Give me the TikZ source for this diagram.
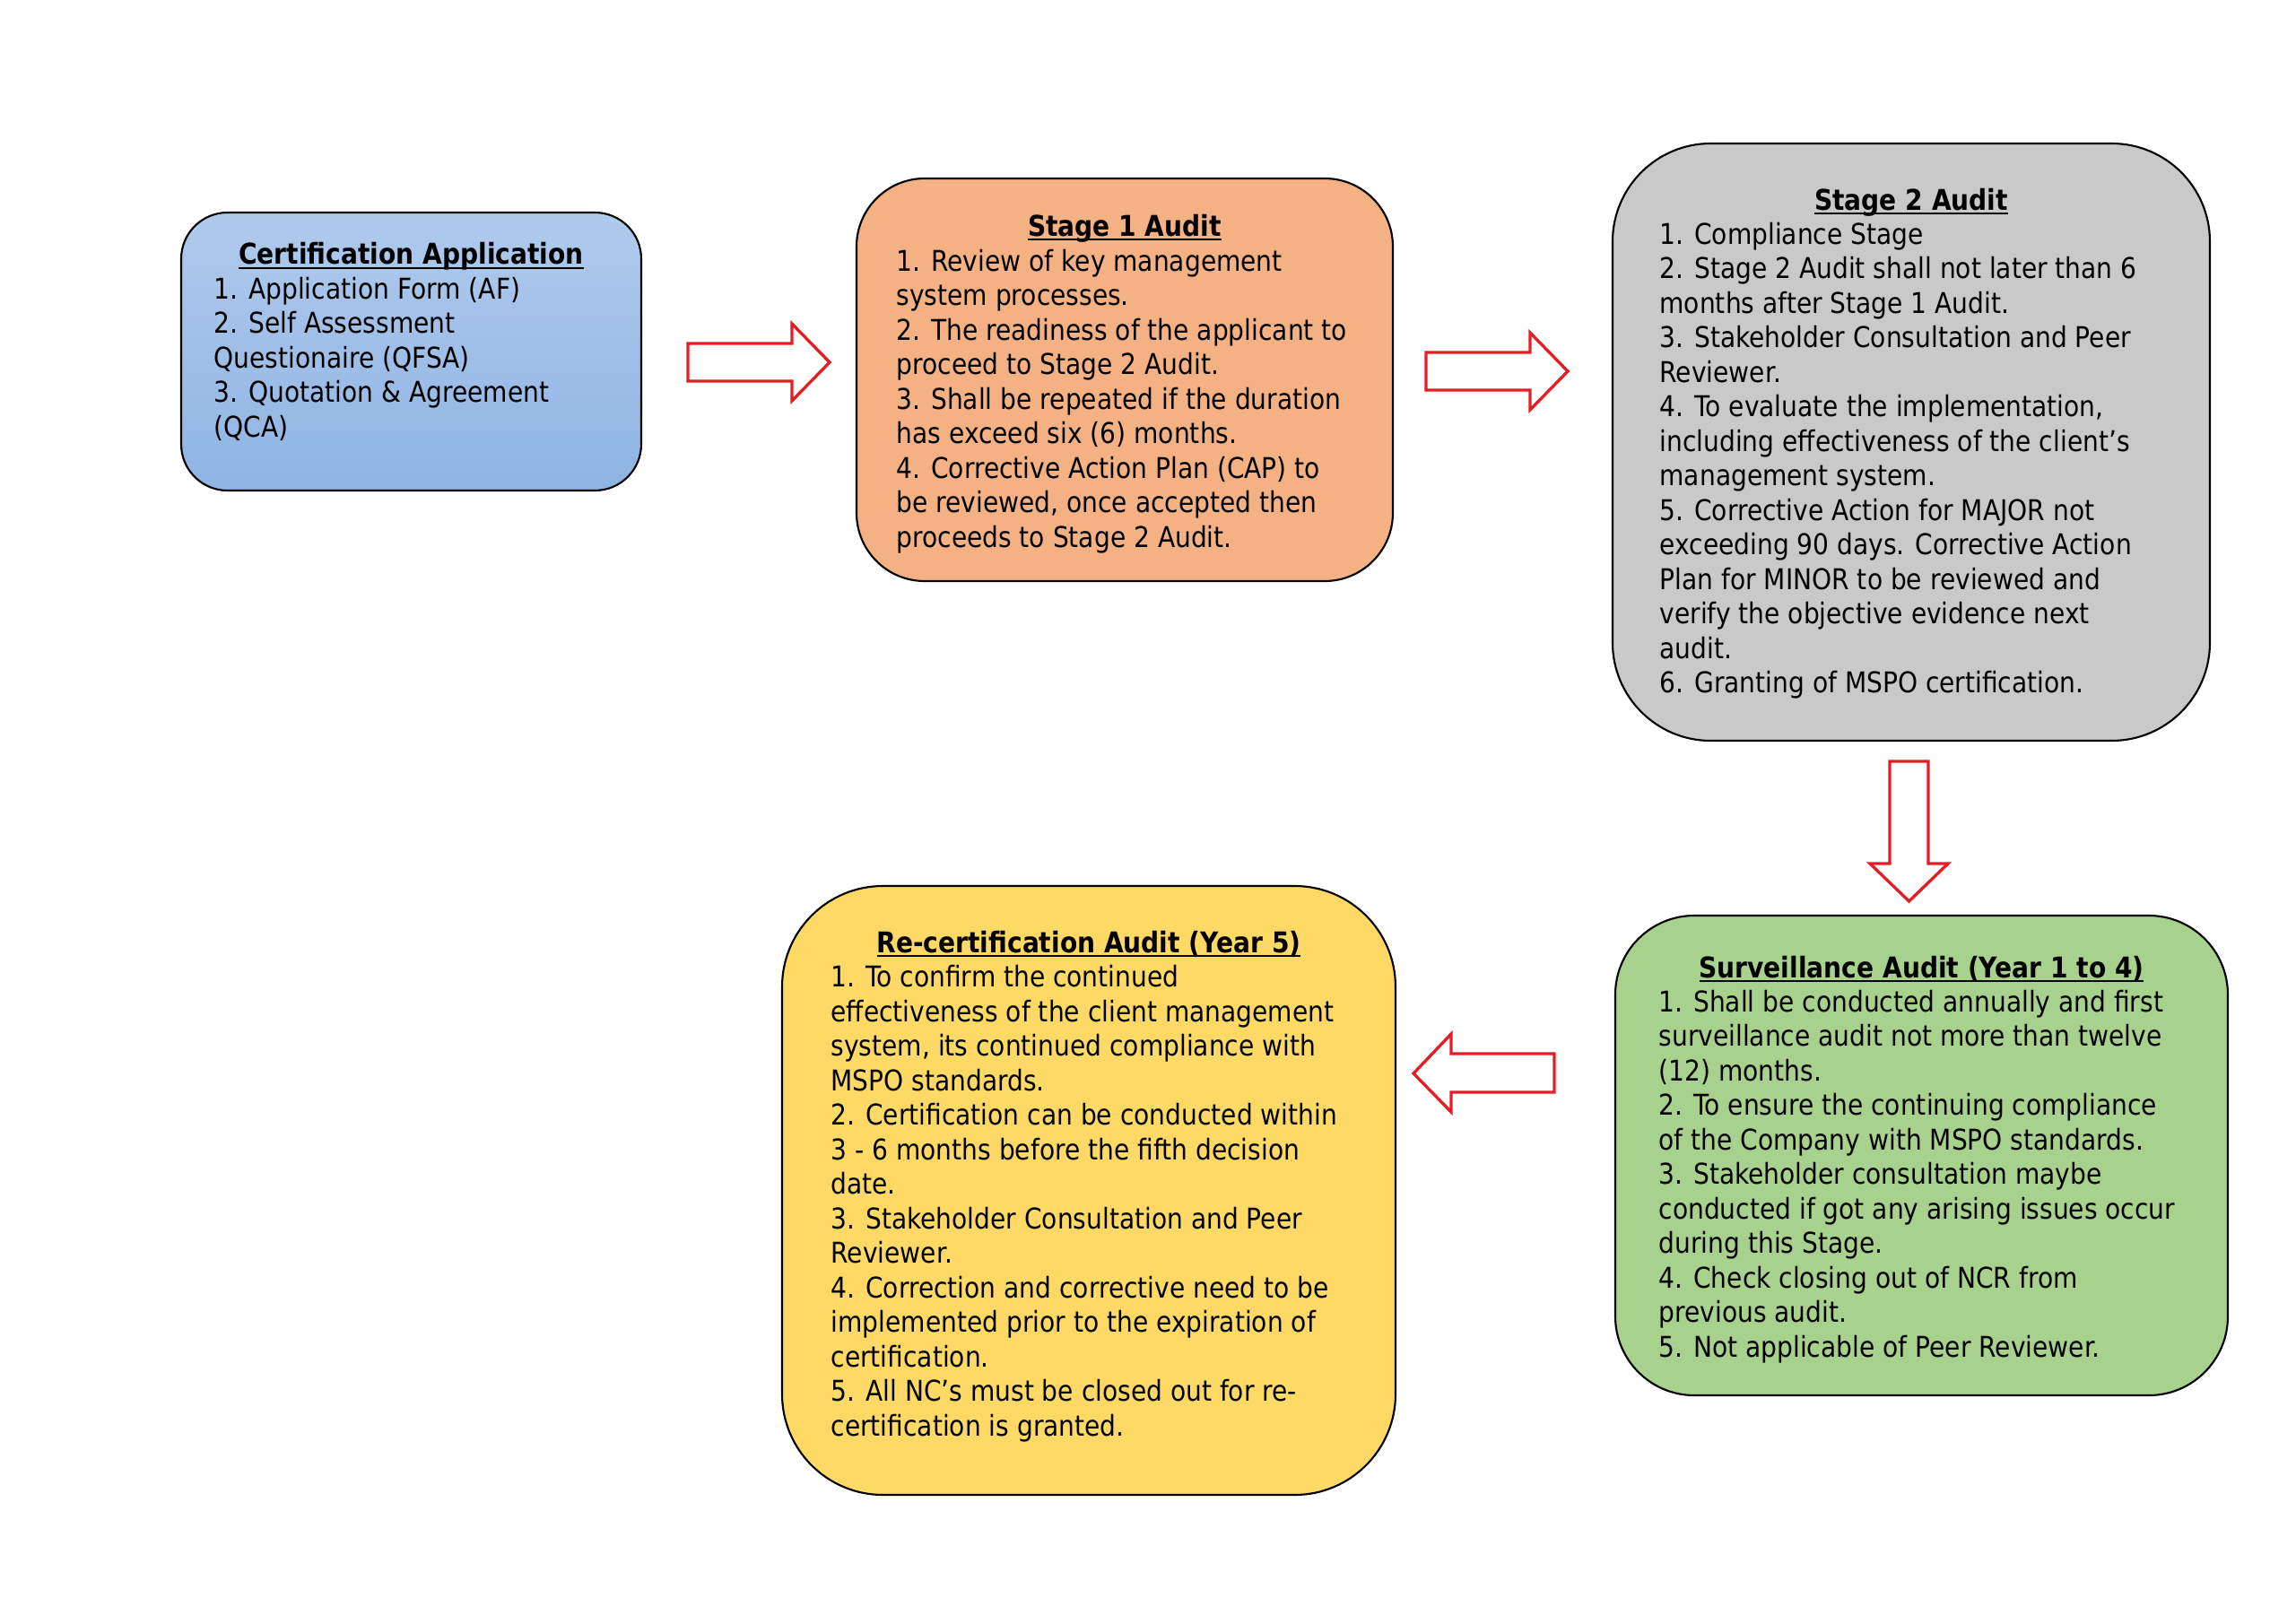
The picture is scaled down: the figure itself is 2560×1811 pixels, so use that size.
\documentclass[tikz,border=0pt]{standalone}
\usepackage{fontspec}
\setmainfont{DejaVu Sans}[FakeStretch=0.88]
\usetikzlibrary{positioning}
\definecolor{bluetop}{RGB}{176,202,236}
\definecolor{bluebot}{RGB}{142,180,227}
\definecolor{orangefill}{RGB}{244,177,131}
\definecolor{grayfill}{RGB}{201,201,201}
\definecolor{greenfill}{RGB}{169,209,142}
\definecolor{yellowfill}{RGB}{255,217,102}
\definecolor{arrowred}{RGB}{228,30,36}
\def\pxu{0.3289pt}
\newcommand\myul[1]{\setbox0=\hbox{#1}\rlap{\rule[-1.8pt]{\wd0}{0.75pt}}\box0}
\tikzset{
  stagebox/.style={draw=black, line width=0.7pt, inner sep=0pt, outer sep=0pt},
  titletext/.style={anchor=base, font=\fontsize{10.5pt}{12.66pt}\selectfont\bfseries, inner sep=0pt},
  bodytext/.style={anchor=base west, align=left, font=\fontsize{10.5pt}{12.66pt}\selectfont, inner sep=0pt},
  blockarrow/.style={draw=arrowred, line width=1.1pt, fill=white, line join=miter}
}
\begin{document}
\begin{tikzpicture}[x=0.3289pt, y=-0.3289pt]
\useasboundingbox (0,0) rectangle (2560,1811);
\fill[white] (0,0) rectangle (2560,1811);

% Boxes
\node[stagebox, top color=bluetop, bottom color=bluebot, minimum width=513*\pxu, minimum height=310*\pxu, rounded corners=17pt] (cert) at (458.5,392) {};
\node[stagebox, fill=orangefill, minimum width=598*\pxu, minimum height=449*\pxu, rounded corners=25pt] (s1) at (1254,423.5) {};
\node[stagebox, fill=grayfill, minimum width=666*\pxu, minimum height=666*\pxu, rounded corners=36pt] (s2) at (2131,493) {};
\node[stagebox, fill=greenfill, minimum width=683*\pxu, minimum height=535*\pxu, rounded corners=29pt] (surv) at (2142.5,1288.5) {};
\node[stagebox, fill=yellowfill, minimum width=684*\pxu, minimum height=679*\pxu, rounded corners=37pt] (recert) at (1214,1327.5) {};

% Texts (body nodes anchored at the baseline of their last line)
\node[titletext] (certT) at (458.5,294.5) {\myul{Certification Application}};
\node[bodytext] (certB) at (238,487) {1. Application Form (AF)\\2. Self Assessment\\Questionaire (QFSA)\\3. Quotation \& Agreement\\(QCA)};

\node[titletext] (s1T) at (1254,263) {\myul{Stage 1 Audit}};
\node[bodytext] (s1B) at (999,610) {1. Review of key management\\system processes.\\2. The readiness of the applicant to\\proceed to Stage 2 Audit.\\3. Shall be repeated if the duration\\has exceed six (6) months.\\4. Corrective Action Plan (CAP) to\\be reviewed, once accepted then\\proceeds to Stage 2 Audit.};

\node[titletext] (s2T) at (2131,234) {\myul{Stage 2 Audit}};
\node[bodytext] (s2B) at (1850,772.5) {1. Compliance Stage\\2. Stage 2 Audit shall not later than 6\\months after Stage 1 Audit.\\3. Stakeholder Consultation and Peer\\Reviewer.\\4. To evaluate the implementation,\\including effectiveness of the client’s\\management system.\\5. Corrective Action for MAJOR not\\exceeding 90 days. Corrective Action\\Plan for MINOR to be reviewed and\\verify the objective evidence next\\audit.\\6. Granting of MSPO certification.};

\node[titletext] (survT) at (2142.5,1090) {\myul{Surveillance Audit (Year 1 to 4)}};
\node[bodytext] (survB) at (1849,1513) {1. Shall be conducted annually and first\\surveillance audit not more than twelve\\(12) months.\\2. To ensure the continuing compliance\\of the Company with MSPO standards.\\3. Stakeholder consultation maybe\\conducted if got any arising issues occur\\during this Stage.\\4. Check closing out of NCR from\\previous audit.\\5. Not applicable of Peer Reviewer.};

\node[titletext] (recertT) at (1214,1062) {\myul{Re-certification Audit (Year 5)}};
\node[bodytext] (recertB) at (926,1601) {1. To confirm the continued\\effectiveness of the client management\\system, its continued compliance with\\MSPO standards.\\2. Certification can be conducted within\\3 - 6 months before the fifth decision\\date.\\3. Stakeholder Consultation and Peer\\Reviewer.\\4. Correction and corrective need to be\\implemented prior to the expiration of\\certification.\\5. All NC’s must be closed out for re-\\certification is granted.};

% Block arrows
\draw[blockarrow] (767,383) -- (883,383) -- (883,361) -- (925,404) -- (883,447) -- (883,425) -- (767,425) -- cycle;
\draw[blockarrow] (1590,393) -- (1706,393) -- (1706,371) -- (1748,414) -- (1706,457) -- (1706,435) -- (1590,435) -- cycle;
\draw[blockarrow] (2107,849) -- (2150,849) -- (2150,963) -- (2172,963) -- (2128.5,1005) -- (2085,963) -- (2107,963) -- cycle;
\draw[blockarrow] (1733,1175) -- (1618,1175) -- (1618,1153) -- (1576,1197) -- (1618,1240) -- (1618,1218) -- (1733,1218) -- cycle;
\end{tikzpicture}
\end{document}
